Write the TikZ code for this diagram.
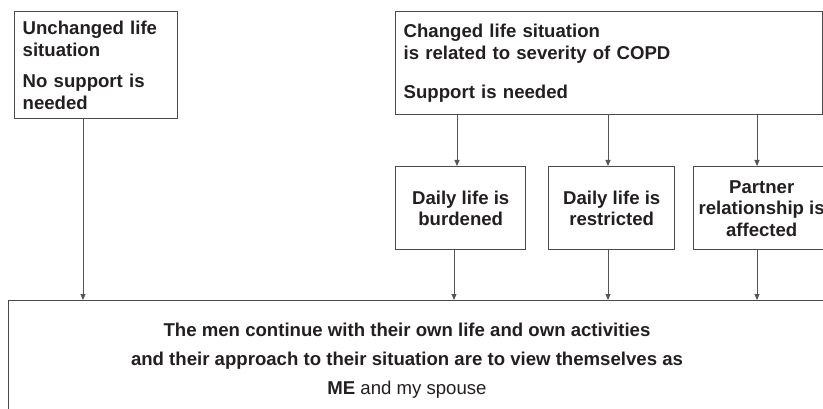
\documentclass[tikz,border=0pt]{standalone}
\usepackage{fontspec}
\setmainfont{Liberation Sans}
\usetikzlibrary{arrows.meta,calc}
\definecolor{boxline}{HTML}{4A4A4A}
\definecolor{conncol}{HTML}{555555}
\definecolor{txt}{HTML}{231F20}
\begin{document}
\begin{tikzpicture}[x=1pt,y=-1pt,
  box/.style={draw=boxline, line width=1.4pt, rectangle, inner xsep=8pt, inner ysep=0pt,
    text=txt, font=\bfseries\fontsize{18.6}{21.5}\selectfont, anchor=north west},
  conn/.style={draw=conncol, line width=0.9pt, -{Triangle[length=6pt,width=5pt]}}]
\useasboundingbox (0,0) rectangle (823,409);
\clip (0,0) rectangle (823,409);
\node[box, minimum width=163pt, minimum height=107pt, text width=147pt, align=left] (unch) at (14,11)
  {Unchanged life\\situation\\[10pt]No support is\\needed};
\node[box, minimum width=427pt, minimum height=103pt, text width=411pt, align=left] (chg) at (395,11)
  {Changed life situation\\is related to severity of COPD\\[18pt]Support is needed};
\node[box, minimum width=130pt, minimum height=83pt, align=center] (burd) at (395,166)
  {Daily life is\\burdened};
\node[box, minimum width=126pt, minimum height=83pt, align=center] (rest) at (548,166)
  {Daily life is\\restricted};
\node[box, minimum width=136pt, minimum height=83pt, align=center, inner xsep=0pt] (part) at (693,166)
  {Partner\\relationship is\\affected};
\node[box, minimum width=840pt, minimum height=130pt] (bot) at (8,300) {};
\node[text=txt, font=\fontsize{18.6}{29}\selectfont, align=center, inner sep=0pt] (bottxt) at (407,361)
  {\textbf{The men continue with their own life and own activities}\\
   \textbf{and their approach to their situation are to view themselves as}\\
   \textbf{ME} and my spouse};
% connector coordinates
\coordinate (u1) at ($(unch.south west)+(69,0)$);
\coordinate (b1) at ($(burd.north west)+(62,0)$);
\coordinate (b2) at ($(burd.south west)+(59,0)$);
\coordinate (r1) at ($(rest.north west)+(60,0)$);
\coordinate (r2) at ($(rest.south west)+(60,0)$);
\coordinate (p1) at ($(part.north west)+(64,0)$);
\coordinate (p2) at ($(part.south west)+(64,0)$);
\draw[conn] (u1) -- (u1 |- bot.north);
\draw[conn] (b1 |- chg.south) -- (b1);
\draw[conn] (r1 |- chg.south) -- (r1);
\draw[conn] (p1 |- chg.south) -- (p1);
\draw[conn] (b2) -- (b2 |- bot.north);
\draw[conn] (r2) -- (r2 |- bot.north);
\draw[conn] (p2) -- (p2 |- bot.north);
\end{tikzpicture}
\end{document}
